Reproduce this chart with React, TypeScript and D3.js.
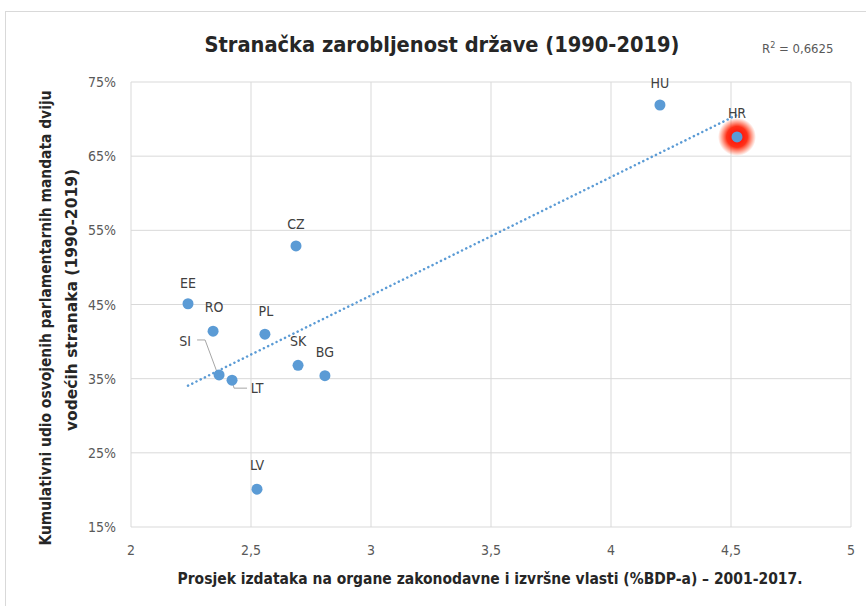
import React from "react";
import * as d3 from "d3";

const countries = ["HU", "HR", "CZ", "EE", "RO", "PL", "SK", "BG", "SI", "LT", "LV"];
const spending = [4.204, 4.525, 2.6875, 2.2375, 2.342, 2.558, 2.696, 2.808, 2.367, 2.421, 2.525];
const share = [71.9, 67.6, 52.9, 45.1, 41.4, 41.0, 36.8, 35.4, 35.5, 34.8, 20.1];
const xTicks = [2, 2.5, 3, 3.5, 4, 4.5, 5];
const yTicks = [15, 25, 35, 45, 55, 65, 75];

const W = 866, H = 606;
const font = "'Liberation Sans Narrow', 'DejaVu Sans Condensed', 'Liberation Sans', sans-serif";
const blue = "#5b9bd5";

export default function App() {
  const x = d3.scaleLinear().domain([2, 5]).range([131, 851]);
  const y = d3.scaleLinear().domain([15, 75]).range([527, 82]);

  // linear regression
  const n = spending.length;
  const mx = d3.mean(spending)!;
  const my = d3.mean(share)!;
  let sxy = 0, sxx = 0;
  for (let i = 0; i < n; i++) {
    sxy += (spending[i] - mx) * (share[i] - my);
    sxx += (spending[i] - mx) ** 2;
  }
  const b = sxy / sxx;
  const a = my - b * mx;
  const x0 = d3.min(spending)!, x1 = d3.max(spending)!;
  const trend = d3.line<number>().x((d) => x(d)).y((d) => y(a + b * d))([x0, x1]);

  const labelOffsets: Record<string, [number, number]> = {
    HU: [0, -22],
    HR: [0, -24],
    CZ: [0, -22],
    EE: [0, -21],
    RO: [1, -24],
    PL: [1, -23],
    SK: [0, -24],
    BG: [0, -24],
    SI: [-34, -34],
    LT: [25, 8],
    LV: [0, -24],
  };

  const idx = (c: string) => countries.indexOf(c);
  const si = idx("SI"), lt = idx("LT"), hr = idx("HR");

  return (
    <svg width={W} height={H} style={{ display: "block", position: "absolute", left: 0, top: 0 }}>
      <defs>
        <radialGradient id="glow">
          <stop offset="0%" stopColor="#ff0000" stopOpacity={1} />
          <stop offset="55%" stopColor="#ff1a00" stopOpacity={0.9} />
          <stop offset="100%" stopColor="#ff3300" stopOpacity={0} />
        </radialGradient>
      </defs>
      <rect x={0} y={0} width={W} height={H} fill="#fff" />
      <rect x={5.5} y={11.5} width={W + 10} height={H + 10} fill="none" stroke="#d9d9d9" />
      {xTicks.map((t) => (
        <line key={"gx" + t} x1={x(t)} x2={x(t)} y1={y(75)} y2={y(15)} stroke="#d9d9d9" strokeWidth={1} />
      ))}
      {yTicks.map((t) => (
        <line key={"gy" + t} x1={x(2)} x2={x(5)} y1={y(t)} y2={y(t)} stroke="#d9d9d9" strokeWidth={1} />
      ))}
      {xTicks.map((t) => (
        <text key={"tx" + t} x={x(t)} y={555} textAnchor="middle" fontFamily={font} fontSize={14} fill="#595959">
          {String(t).replace(".", ",")}
        </text>
      ))}
      {yTicks.map((t) => (
        <text key={"ty" + t} x={116} y={y(t) + 5} textAnchor="end" fontFamily={font} fontSize={14} fill="#595959">
          {t}%
        </text>
      ))}
      <circle cx={x(spending[hr])} cy={y(share[hr])} r={19} fill="url(#glow)" />
      <path d={trend || ""} fill="none" stroke={blue} strokeWidth={2.5} strokeDasharray="0.1 4.6" strokeLinecap="round" />
      <polyline
        points={`${x(spending[si]) - 22},${y(share[si]) - 35} ${x(spending[si]) - 14},${y(share[si]) - 35} ${x(spending[si]) - 1},${y(share[si])}`}
        fill="none" stroke="#a6a6a6" strokeWidth={1}
      />
      <polyline
        points={`${x(spending[lt])},${y(share[lt])} ${x(spending[lt]) + 2},${y(share[lt]) + 8} ${x(spending[lt]) + 15},${y(share[lt]) + 8}`}
        fill="none" stroke="#a6a6a6" strokeWidth={1}
      />
      {countries.map((c, i) => (
        <circle key={c} cx={x(spending[i])} cy={y(share[i])} r={5.5} fill={blue} />
      ))}
      {countries.map((c, i) => {
        const [dx, dy] = labelOffsets[c];
        return (
          <text key={"l" + c} x={x(spending[i]) + dx} y={y(share[i]) + dy + 5} textAnchor="middle"
            fontFamily={font} fontSize={14} fill="#404040">
            {c}
          </text>
        );
      })}
      <text x={442} y={52} textAnchor="middle" fontFamily={font} fontSize={22} fontWeight="bold" fill="#262626"
        textLength={475} lengthAdjust="spacingAndGlyphs">
        Stranačka zarobljenost države (1990-2019)
      </text>
      <text x={762} y={53} fontFamily={font} fontSize={13} fill="#595959">
        R<tspan dy={-5} fontSize={9}>2</tspan><tspan dy={5}> = 0,6625</tspan>
      </text>
      <text x={490} y={584} textAnchor="middle" fontFamily={font} fontSize={15} fontWeight="bold" fill="#262626"
        textLength={625} lengthAdjust="spacingAndGlyphs">
        Prosjek izdataka na organe zakonodavne i izvršne vlasti (%BDP-a) – 2001-2017.
      </text>
      <g transform="rotate(-90)">
        <text x={-318} y={51} textAnchor="middle" fontFamily={font} fontSize={15} fontWeight="bold" fill="#262626"
          textLength={455} lengthAdjust="spacingAndGlyphs">
          Kumulativni udio osvojenih parlamentarnih mandata dviju
        </text>
        <text x={-300} y={77} textAnchor="middle" fontFamily={font} fontSize={15} fontWeight="bold" fill="#262626"
          textLength={262} lengthAdjust="spacingAndGlyphs">
          vodećih stranaka (1990-2019)
        </text>
      </g>
    </svg>
  );
}
